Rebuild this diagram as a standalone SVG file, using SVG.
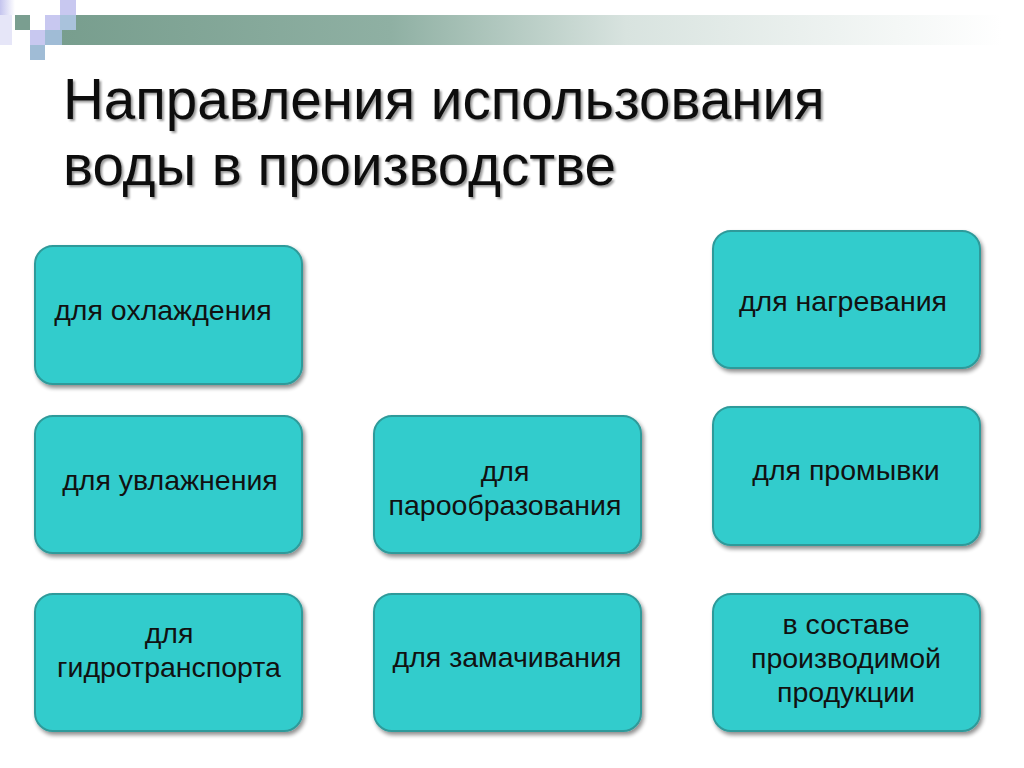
<svg xmlns="http://www.w3.org/2000/svg" width="1024" height="768" viewBox="0 0 1024 768">
<defs>
<linearGradient id="bar" x1="0" y1="0" x2="1" y2="0">
<stop offset="0" stop-color="#789e8e"/>
<stop offset="0.35" stop-color="#8fb0a3"/>
<stop offset="0.6" stop-color="#d8e3df"/>
<stop offset="1" stop-color="#ffffff"/>
</linearGradient>
<linearGradient id="fade" x1="0" y1="0" x2="1" y2="0">
<stop offset="0" stop-color="#c4c4ee"/>
<stop offset="1" stop-color="#ffffff"/>
</linearGradient>
<filter id="sh" x="-10%" y="-10%" width="125%" height="130%">
<feGaussianBlur in="SourceAlpha" stdDeviation="2"/>
<feOffset dx="2" dy="3" result="b"/>
<feComponentTransfer><feFuncA type="linear" slope="0.45"/></feComponentTransfer>
<feMerge><feMergeNode/><feMergeNode in="SourceGraphic"/></feMerge>
</filter>
<filter id="tsh" x="-5%" y="-10%" width="110%" height="130%">
<feGaussianBlur in="SourceAlpha" stdDeviation="1.2"/>
<feOffset dx="2" dy="2"/>
<feComponentTransfer><feFuncA type="linear" slope="0.4"/></feComponentTransfer>
<feMerge><feMergeNode/><feMergeNode in="SourceGraphic"/></feMerge>
</filter>
</defs>
<style>
.box{fill:#33cccc;stroke:#2e9a9a;stroke-width:2;filter:url(#sh)}
.lbl{font-family:"Liberation Sans",Arial,sans-serif;font-size:28.5px;fill:#111;text-anchor:middle}
.title{font-family:"Liberation Sans",Arial,sans-serif;font-size:56.5px;fill:#111;filter:url(#tsh)}
</style>
<rect width="1024" height="768" fill="#ffffff"/>
<g id="decor">
<rect x="62" y="15" width="940" height="30" fill="url(#bar)"/>
<rect x="0" y="0" width="15" height="15" fill="url(#fade)"/>
<rect x="0" y="15" width="12" height="30" fill="#e6e6f8"/>
<rect x="60" y="0" width="16" height="15" fill="#c8c8f0"/>
<rect x="15" y="15" width="15" height="15" fill="#7a9e90"/>
<rect x="45" y="15" width="15" height="15" fill="#c8c8f0"/>
<rect x="60" y="15" width="16" height="15" fill="#a9c2dc"/>
<rect x="30" y="30" width="15" height="15" fill="#c8c8f0"/>
<rect x="45" y="30" width="17" height="15" fill="#a0bcd6"/>
<rect x="30" y="45" width="15" height="15" fill="#a0bcd6"/>
</g>
<g id="title">
<text class="title" x="63" y="119">Направления использования</text>
<text class="title" x="63" y="185">воды в производстве</text>
</g>
<g id="connectors"></g>
<g id="n1"><rect class="box" x="35" y="246" width="267" height="138" rx="18"/><text class="lbl" x="163" y="320">для охлаждения</text></g>
<g id="n2"><rect class="box" x="35" y="416" width="267" height="137" rx="18"/><text class="lbl" x="170" y="490">для увлажнения</text></g>
<g id="n3"><rect class="box" x="35" y="594" width="267" height="137" rx="18"/><text class="lbl" x="169" y="643">для</text><text class="lbl" x="169" y="677">гидротранспорта</text></g>
<g id="n4"><rect class="box" x="374" y="416" width="267" height="137" rx="18"/><text class="lbl" x="505" y="481">для</text><text class="lbl" x="505" y="515">парообразования</text></g>
<g id="n5"><rect class="box" x="374" y="594" width="267" height="137" rx="18"/><text class="lbl" x="507" y="667">для замачивания</text></g>
<g id="n6"><rect class="box" x="713" y="231" width="267" height="137" rx="18"/><text class="lbl" x="843" y="311">для нагревания</text></g>
<g id="n7"><rect class="box" x="713" y="407" width="267" height="138" rx="18"/><text class="lbl" x="846" y="480">для промывки</text></g>
<g id="n8"><rect class="box" x="713" y="594" width="267" height="137" rx="18"/><text class="lbl" x="846" y="634">в составе</text><text class="lbl" x="846" y="668">производимой</text><text class="lbl" x="846" y="702">продукции</text></g>
</svg>
